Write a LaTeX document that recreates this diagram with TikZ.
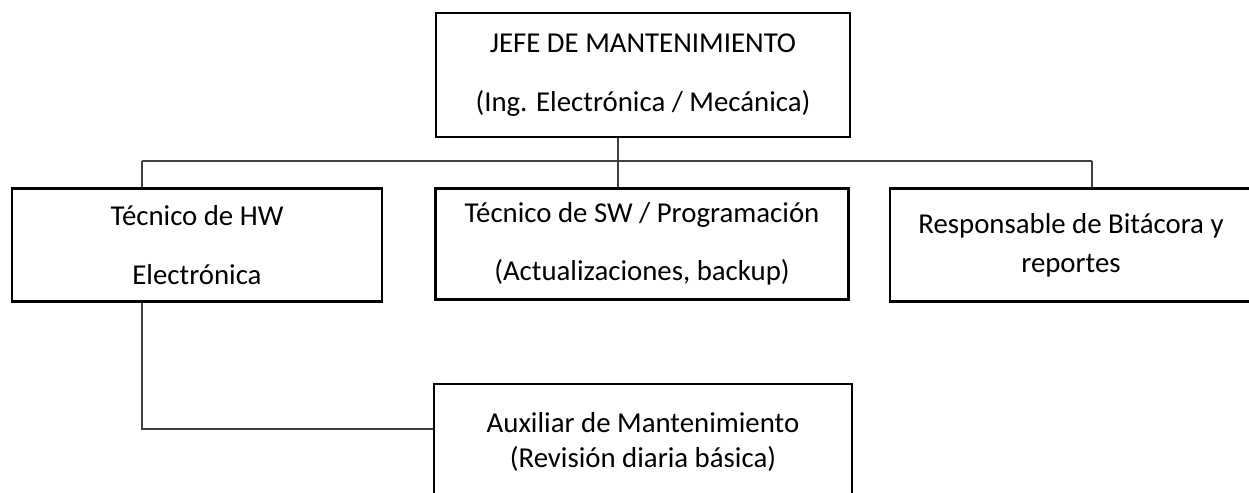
\documentclass[tikz,border=0pt]{standalone}
\usepackage{fontspec}
\setmainfont{Carlito}

\begin{document}
\begin{tikzpicture}[x=0.02cm, y=-0.02cm,
  puesto/.style={draw, line width=1.4pt, align=center, inner sep=0pt,
    font=\fontsize{16.4}{20}\selectfont},
  enlace/.style={draw=black!75, line width=0.7pt}]
\useasboundingbox (0,0) rectangle (1249,493);
% cajas
\node[puesto, minimum width=8.28cm, minimum height=2.48cm] (jefe) at (643,75)
  {JEFE DE MANTENIMIENTO\\[13.3pt](Ing. Electrónica / Mecánica)};
\node[puesto, minimum width=7.4cm, minimum height=2.26cm] (hw) at (197,245)
  {Técnico de HW\\[13.3pt]Electrónica};
\node[puesto, minimum width=8.26cm, minimum height=2.22cm] (sw) at (642,244)
  {Técnico de SW / Programación\\[13.3pt](Actualizaciones, backup)};
\node[puesto, minimum width=7.24cm, minimum height=2.26cm] (bit) at (1071,245)
  {Responsable de Bitácora y\\[2.2pt]reportes};
\node[puesto, minimum width=8.36cm, minimum height=2.32cm] (aux) at (643,442)
  {Auxiliar de Mantenimiento\\(Revisión diaria básica)};
% conectores
\coordinate (busL) at (142,161);
\coordinate (busM) at (618,161);
\coordinate (busR) at (1092,161);
\coordinate (auxL) at (142,429);
\draw[enlace] (busL) -- (busR);
\draw[enlace] (busM |- jefe.south) -- (busM |- sw.north);
\draw[enlace] (busL) -- (busL |- hw.north);
\draw[enlace] (busR) -- (busR |- bit.north);
\draw[enlace] (auxL |- hw.south) -- (auxL) -- (auxL -| aux.west);
\end{tikzpicture}
\end{document}
